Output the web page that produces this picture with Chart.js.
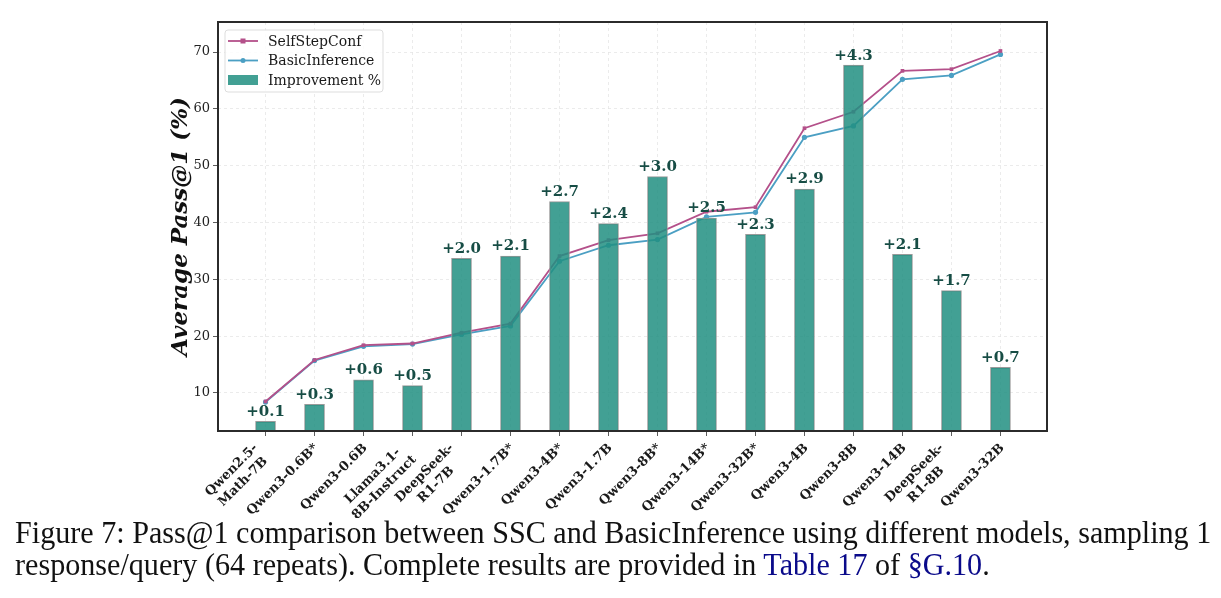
<!DOCTYPE html>
<html>
<head>
<meta charset="utf-8">
<script src="https://cdn.jsdelivr.net/npm/chart.js@4.4.0/dist/chart.umd.min.js"></script>
<style>
  body { margin: 0; background: #fff; width: 1221px; height: 598px; overflow: hidden; position: relative; }
  #wrap { position: absolute; left: 0; top: 0; width: 1221px; height: 518px; }
  #caption {
    position: absolute; left: 15px; top: 517px;
    font-family: "Liberation Serif", serif; font-size: 31px; line-height: 32px;
    color: #111; white-space: nowrap; transform-origin: left top; transform: scaleX(0.972);
  }
  #caption .ref { color: #0a0a8a; }
</style>
</head>
<body>
<div id="wrap"><canvas id="chart"></canvas></div>
<div id="caption">Figure 7: Pass@1 comparison between SSC and BasicInference using different models, sampling 1<br>response/query (64 repeats). Complete results are provided in <span class="ref">Table 17</span> of <span class="ref">§G.10</span>.</div>
<script>
// modèles (axe x)
const modeles = [
    ["Qwen2.5-", "Math-7B"], "Qwen3-0.6B*", "Qwen3-0.6B", ["Llama3.1-", "8B-Instruct"],
    ["DeepSeek-", "R1-7B"], "Qwen3-1.7B*", "Qwen3-4B*", "Qwen3-1.7B", "Qwen3-8B*",
    "Qwen3-14B*", "Qwen3-32B*", "Qwen3-4B", "Qwen3-8B", "Qwen3-14B",
    ["DeepSeek-", "R1-8B"], "Qwen3-32B"
];

// Pass@1 moyen (%)
const selfStepConf = [8.5, 15.8, 18.4, 18.7, 20.6, 22.2, 34.1, 36.9, 38.1, 41.9, 42.7, 56.6, 59.5, 66.7, 67.0, 70.2];
const basicInference = [8.4, 15.7, 18.2, 18.6, 20.3, 21.8, 33.2, 36.0, 37.0, 41.0, 41.8, 55.0, 57.0, 65.2, 65.9, 69.6];

// hauteur des barres (Improvement %) et étiquettes
const amelioration = [5.0, 8.0, 12.3, 11.3, 33.7, 34.1, 43.7, 39.8, 48.1, 40.8, 37.9, 45.9, 67.7, 34.4, 28.0, 14.5];
const etiquettes = ["+0.1", "+0.3", "+0.6", "+0.5", "+2.0", "+2.1", "+2.7", "+2.4", "+3.0", "+2.5", "+2.3", "+2.9", "+4.3", "+2.1", "+1.7", "+0.7"];

const yTicks = [10, 20, 30, 40, 50, 60, 70];

const serif = "'DejaVu Serif', serif";
const couleurSelf = "#b4508a";
const couleurBasic = "#4b9fc3";
const couleurBarre = "rgba(33, 143, 129, 0.85)";

const pts = arr => arr.map((v, i) => ({ x: i, y: v }));

// étiquettes au-dessus des barres, noms des modèles à 45°, cadre et légende
const decor = {
    id: "decor",
    afterDatasetsDraw(chart) {
        const ctx = chart.ctx;
        const meta = chart.getDatasetMeta(2);
        ctx.save();
        ctx.font = "bold 15px " + serif;
        ctx.fillStyle = "#174d45";
        ctx.textAlign = "center";
        ctx.textBaseline = "bottom";
        meta.data.forEach((bar, i) => {
            ctx.fillText(etiquettes[i], bar.x, bar.y - 2);
        });
        ctx.restore();
    },
    afterDraw(chart) {
        const ctx = chart.ctx;
        const a = chart.chartArea;
        const xs = chart.scales.x;

        // noms des modèles (alignés à droite, lignes centrées, comme matplotlib)
        ctx.save();
        ctx.font = "bold 13px " + serif;
        ctx.fillStyle = "#1a1a1a";
        ctx.textAlign = "center";
        ctx.textBaseline = "alphabetic";
        const c = Math.SQRT1_2, lh = 16.4, cap = 9.5;
        modeles.forEach((lab, i) => {
            const lignes = Array.isArray(lab) ? lab : [lab];
            const W = Math.max(...lignes.map(l => ctx.measureText(l).width));
            const tx = xs.getPixelForValue(i);
            const cx = tx - 2.5 - (lignes.length - 1) * lh * c;
            const cy = a.bottom + 10.7;
            ctx.save();
            ctx.translate(cx - W * c, cy + W * c);
            ctx.rotate(-Math.PI / 4);
            lignes.forEach((l, k) => ctx.fillText(l, W / 2, cap + k * lh));
            ctx.restore();
        });
        ctx.restore();

        ctx.save();
        ctx.strokeStyle = "#2b2b2b";
        ctx.lineWidth = 2;
        ctx.strokeRect(a.left, a.top, a.right - a.left, a.bottom - a.top);

        // légende
        const lx = a.left + 7, ly = a.top + 8, lw = 158, lh2 = 62;
        ctx.fillStyle = "rgba(255,255,255,0.85)";
        ctx.strokeStyle = "#dddddd";
        ctx.lineWidth = 1;
        ctx.beginPath();
        ctx.roundRect(lx, ly, lw, lh2, 3);
        ctx.fill();
        ctx.stroke();

        const items = [
            { label: "SelfStepConf", color: couleurSelf, type: "rect" },
            { label: "BasicInference", color: couleurBasic, type: "circle" },
            { label: "Improvement %", color: couleurBarre, type: "bar" }
        ];
        ctx.font = "14px " + serif;
        ctx.textBaseline = "middle";
        ctx.textAlign = "left";
        items.forEach((it, k) => {
            const cy = ly + 11 + k * 19.5;
            const x0 = lx + 3, x1 = lx + 33;
            if (it.type === "bar") {
                ctx.fillStyle = it.color;
                ctx.fillRect(x0, cy - 5, x1 - x0, 10);
            } else {
                ctx.strokeStyle = it.color;
                ctx.lineWidth = 1.8;
                ctx.beginPath();
                ctx.moveTo(x0, cy);
                ctx.lineTo(x1, cy);
                ctx.stroke();
                ctx.fillStyle = it.color;
                if (it.type === "rect") {
                    ctx.fillRect((x0 + x1) / 2 - 2.5, cy - 2.5, 5, 5);
                } else {
                    ctx.beginPath();
                    ctx.arc((x0 + x1) / 2, cy, 2.5, 0, Math.PI * 2);
                    ctx.fill();
                }
            }
            ctx.fillStyle = "#1a1a1a";
            ctx.fillText(it.label, lx + 43, cy + 1);
        });
        ctx.restore();
    }
};

new Chart(document.getElementById("chart"), {
    data: {
        datasets: [
            {
                type: "line",
                label: "SelfStepConf",
                data: pts(selfStepConf),
                borderColor: couleurSelf,
                backgroundColor: couleurSelf,
                borderWidth: 1.8,
                pointStyle: "rect",
                pointRadius: 2.6,
                pointBorderWidth: 0,
                order: 2
            },
            {
                type: "line",
                label: "BasicInference",
                data: pts(basicInference),
                borderColor: couleurBasic,
                backgroundColor: couleurBasic,
                borderWidth: 1.8,
                pointStyle: "circle",
                pointRadius: 2.6,
                pointBorderWidth: 0,
                order: 3
            },
            {
                type: "bar",
                label: "Improvement %",
                data: pts(amelioration),
                backgroundColor: couleurBarre,
                borderColor: "#9a9a9a",
                borderWidth: 1,
                barThickness: 20,
                order: 1
            }
        ]
    },
    options: {
        responsive: true,
        maintainAspectRatio: false,
        animation: false,
        layout: { padding: { left: 167, top: 22, right: 174, bottom: 0 } },
        plugins: {
            legend: { display: false },
            tooltip: { enabled: false }
        },
        scales: {
            x: {
                type: "linear",
                offset: false,
                min: -0.97,
                max: 15.95,
                afterBuildTicks: s => { s.ticks = modeles.map((_, i) => ({ value: i })); },
                afterFit: s => { s.height = 87; },
                grid: {
                    offset: false,
                    color: "#e6e6e6",
                    tickColor: "#333",
                    tickLength: 5,
                    lineWidth: 0.8
                },
                border: { display: false, dash: [3, 3] },
                ticks: { display: false }
            },
            y: {
                min: 3.3,
                max: 75.3,
                afterBuildTicks: s => { s.ticks = yTicks.map(v => ({ value: v })); },
                afterFit: s => { s.width = 51; },
                grid: {
                    color: "#e6e6e6",
                    tickColor: "#333",
                    tickLength: 5,
                    lineWidth: 0.8
                },
                border: { display: false, dash: [3, 3] },
                ticks: {
                    padding: 3,
                    color: "#222",
                    font: { family: serif, size: 13 }
                },
                title: {
                    display: true,
                    text: "Average Pass@1 (%)",
                    color: "#111",
                    padding: 0,
                    font: { family: serif, size: 23, weight: "bold", style: "italic", lineHeight: 1.2 }
                }
            }
        }
    },
    plugins: [decor]
});
</script>
</body>
</html>
